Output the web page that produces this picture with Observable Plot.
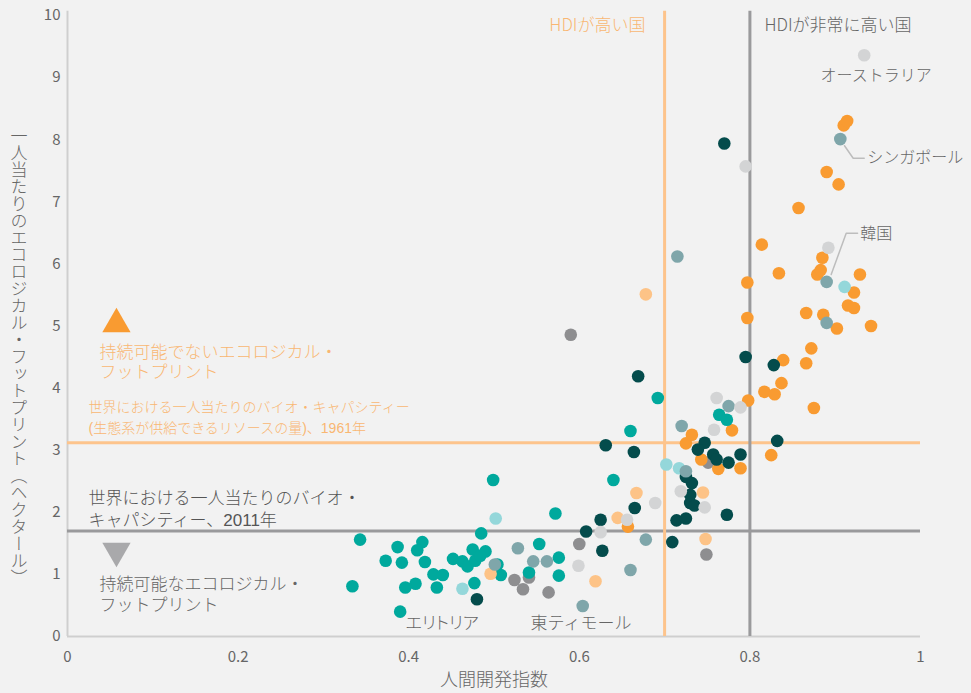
<!DOCTYPE html>
<html><head><meta charset="utf-8">
<script src="https://cdn.jsdelivr.net/npm/d3@7"></script>
<script src="https://cdn.jsdelivr.net/npm/@observablehq/plot@0.6"></script>
<style>
html,body{margin:0;padding:0;background:#f2f2f2;}
.palt{font-feature-settings:"palt";}
.tight{font-family:"Liberation Sans","Noto Sans CJK JP",sans-serif;}
</style></head><body><div id="chart"></div>
<script>
const FONT = '"Noto Sans CJK JP", "Noto Sans", sans-serif';

// [人間開発指数, 一人当たりのエコロジカル・フットプリント]
const tealPts = [[0.499,2.52],[0.572,1.98],[0.485,1.66],[0.343,1.56],[0.387,1.44],[0.416,1.52],[0.410,1.39],[0.373,1.22],[0.392,1.19],[0.419,1.20],[0.475,1.40],[0.490,1.37],[0.452,1.25],[0.463,1.21],[0.469,1.13],[0.478,1.22],[0.484,1.30],[0.504,1.16],[0.508,0.99],[0.429,1.00],[0.440,0.99],[0.408,0.85],[0.396,0.79],[0.433,0.79],[0.334,0.81],[0.477,0.86],[0.390,0.40],[0.553,1.49],[0.576,1.27],[0.541,1.03],[0.576,0.98],[0.692,3.84],[0.660,3.31],[0.640,2.52],[0.764,3.57],[0.773,3.49]];
const lightCyanPts = [[0.502,1.90],[0.463,0.77],[0.702,2.77],[0.717,2.71],[0.911,5.63]];
const grayTealPts = [[0.501,1.16],[0.528,1.42],[0.546,1.21],[0.562,1.21],[0.604,0.49],[0.678,1.56],[0.660,1.07],[0.725,2.66],[0.720,3.39],[0.775,3.71],[0.715,6.12],[0.906,8.01],[0.890,5.71],[0.890,5.05]];
const darkGrayPts = [[0.524,0.91],[0.541,0.95],[0.534,0.76],[0.564,0.71],[0.600,1.49],[0.590,4.86],[0.751,2.80],[0.749,1.32]];
const lightGrayPts = [[0.599,1.14],[0.625,1.68],[0.656,1.88],[0.689,2.15],[0.719,2.34],[0.747,2.08],[0.758,3.33],[0.761,3.84],[0.789,3.69],[0.795,7.57],[0.892,6.26],[0.934,9.36]];
const lightOrangePts = [[0.496,1.01],[0.619,0.89],[0.645,1.91],[0.667,2.31],[0.745,2.32],[0.748,1.57],[0.678,5.51]];
const orangePts = [[0.657,1.77],[0.725,3.11],[0.732,3.25],[0.779,3.32],[0.743,2.85],[0.763,2.70],[0.789,2.71],[0.825,2.92],[0.798,3.80],[0.817,3.94],[0.829,3.90],[0.837,4.08],[0.839,4.45],[0.875,3.68],[0.866,4.40],[0.872,4.64],[0.797,5.13],[0.797,5.70],[0.814,6.31],[0.834,5.85],[0.857,6.90],[0.866,5.21],[0.886,5.18],[0.902,4.96],[0.942,5.00],[0.915,5.33],[0.922,5.29],[0.922,5.54],[0.929,5.83],[0.879,5.83],[0.883,5.90],[0.885,6.10],[0.890,7.48],[0.904,7.28],[0.910,8.23],[0.914,8.30]];
const darkTealPts = [[0.480,0.60],[0.608,1.69],[0.625,1.88],[0.627,1.38],[0.665,2.07],[0.664,2.97],[0.631,3.08],[0.669,4.19],[0.709,1.52],[0.714,1.87],[0.725,1.90],[0.730,2.15],[0.735,2.11],[0.730,2.28],[0.732,2.47],[0.725,2.57],[0.747,3.12],[0.739,3.01],[0.757,2.93],[0.761,2.85],[0.775,2.80],[0.789,2.93],[0.773,1.96],[0.832,3.15],[0.795,4.50],[0.828,4.37],[0.770,7.94]];

const groups = [
  {color:"#8e8e90", pts:darkGrayPts},
  {color:"#f99b31", pts:orangePts},
  {color:"#00a99d", pts:tealPts},
  {color:"#044c4c", pts:darkTealPts},
  {color:"#fdc387", pts:lightOrangePts},
  {color:"#94d7da", pts:lightCyanPts},
  {color:"#7fa6aa", pts:grayTealPts},
  {color:"#d3d4d5", pts:lightGrayPts}
];
const points = groups.flatMap(g => g.pts.map(([x, y]) => ({x, y, color: g.color})));

// reference values
const hdiHigh = 0.7, hdiVeryHigh = 0.8;
const bioCap1961 = 3.12, bioCap2011 = 1.7;

const xTicks = [0, 0.2, 0.4, 0.6, 0.8, 1];
const yTicks = [0,1,2,3,4,5,6,7,8,9,10];

const ORANGE_TXT = "#f9b772";
const annotations = [
  {text:"HDIが高い国", x:0.6776, y:9.84, anchor:"end", color:ORANGE_TXT, size:17},
  {text:"HDIが非常に高い国", x:0.817, y:9.84, anchor:"start", color:"#666", size:17},
  {text:"オーストラリア", x:0.8828, y:9.03, anchor:"start", color:"#666", size:16},
  {text:"シンガポール", x:0.9375, y:7.70, anchor:"start", color:"#666", size:16},
  {text:"韓国", x:0.9295, y:6.49, anchor:"start", color:"#666", size:16},
  {text:"エリトリア", x:0.3963, y:0.21, anchor:"start", color:"#666", size:17, cls:"palt"},
  {text:"東ティモール", x:0.5428, y:0.21, anchor:"start", color:"#666", size:17},
  {text:"持続可能でないエコロジカル・", x:0.0375, y:4.57, anchor:"start", color:ORANGE_TXT, size:17, cls:"tight"},
  {text:"フットプリント", x:0.0375, y:4.25, anchor:"start", color:ORANGE_TXT, size:17, cls:"tight"},
  {text:"世界における一人当たりのバイオ・キャパシティー", x:0.0246, y:3.69, anchor:"start", color:ORANGE_TXT, size:14, cls:"tight"},
  {text:"(生態系が供給できるリソースの量)、1961年", x:0.0246, y:3.35, anchor:"start", color:ORANGE_TXT, size:14, cls:"tight"},
  {text:"世界における一人当たりのバイオ・", x:0.0246, y:2.22, anchor:"start", color:"#555", size:17, cls:"tight"},
  {text:"キャパシティー、2011年", x:0.0246, y:1.87, anchor:"start", color:"#555", size:17, cls:"tight"},
  {text:"持続可能なエコロジカル・", x:0.0375, y:0.83, anchor:"start", color:"#666", size:17, cls:"tight"},
  {text:"フットプリント", x:0.0375, y:0.50, anchor:"start", color:"#666", size:17, cls:"tight"}
];
const leaders = [
  [{x:0.9109,y:7.903},{x:0.9211,y:7.702},{x:0.9340,y:7.702}],
  [{x:0.8953,y:5.829},{x:0.9129,y:6.494},{x:0.9262,y:6.494}]
];
const triangles = [
  {x:0.0574, y:5.03, color:"#f99b31", rotate:0},
  {x:0.0574, y:1.38, color:"#a9a9ab", rotate:180}
];

const chart = Plot.plot({
  width: 971, height: 693,
  marginLeft: 67, marginRight: 51, marginTop: 15, marginBottom: 57,
  style: {background:"#f2f2f2", fontFamily: FONT, color:"#666", fontSize:"15px"},
  x: {domain:[0,1], label:null},
  y: {domain:[0,10], label:null},
  color: {type:"identity"},
  marks: [
    Plot.axisX({ticks:xTicks, tickSize:0, tickPadding:15, tickFormat: d => (d===0||d===1) ? String(d) : d.toFixed(1), label:null, fill:"#666", fontSize:15}),
    Plot.axisY({ticks:yTicks, tickSize:0, tickPadding:7, label:null, fill:"#666", fontSize:15}),
    Plot.ruleX([0], {y1:0, y2:10.07, stroke:"#cfcfcf", strokeWidth:2}),
    Plot.ruleY([0], {stroke:"#cfcfcf", strokeWidth:2}),
    Plot.ruleY([bioCap1961], {stroke:"#fdc48c", strokeWidth:3}),
    Plot.ruleY([bioCap2011], {stroke:"#9a9a9c", strokeWidth:3}),
    Plot.ruleX([hdiHigh], {y1:0, y2:10.07, stroke:"#fdc48c", strokeWidth:3}),
    Plot.ruleX([hdiVeryHigh], {y1:0, y2:10.07, stroke:"#9a9a9c", strokeWidth:3}),
    ...leaders.map(l => Plot.line(l, {x:"x", y:"y", stroke:"#bdbdbd", strokeWidth:1.5})),
    Plot.dot(points, {x:"x", y:"y", fill:"color", r:6.3, stroke:null}),
    Plot.dot(triangles, {x:"x", y:"y", fill:"color", symbol:"triangle", r:10.5, rotate:"rotate"}),
    ...annotations.map(a => Plot.text([a], {x:"x", y:"y", text:"text", textAnchor:a.anchor, fill:a.color, fontSize:a.size, fontWeight:300, className: a.cls})),
    Plot.text(["人間開発指数"], {frameAnchor:"bottom", dy:49, text:d=>d, fill:"#666", fontSize:18, fontWeight:300})
  ]
});

// Plot may prefix class names; apply font settings directly to the text groups
d3.select(chart).selectAll("g[class*='tight'] text").style("font-family", '"Liberation Sans","Noto Sans CJK JP",sans-serif');
d3.select(chart).selectAll("g[class*='palt'] text").style("font-feature-settings", '"palt"');

d3.select(chart).append("text")
  .attr("x", 19).attr("y", 357)
  .attr("text-anchor", "middle")
  .style("writing-mode", "vertical-rl")
  .attr("font-size", 17).attr("font-weight", 300)
  .attr("fill", "#666")
  .text("一人当たりのエコロジカル・フットプリント（ヘクタール）");

document.getElementById("chart").appendChild(chart);
</script></body></html>
